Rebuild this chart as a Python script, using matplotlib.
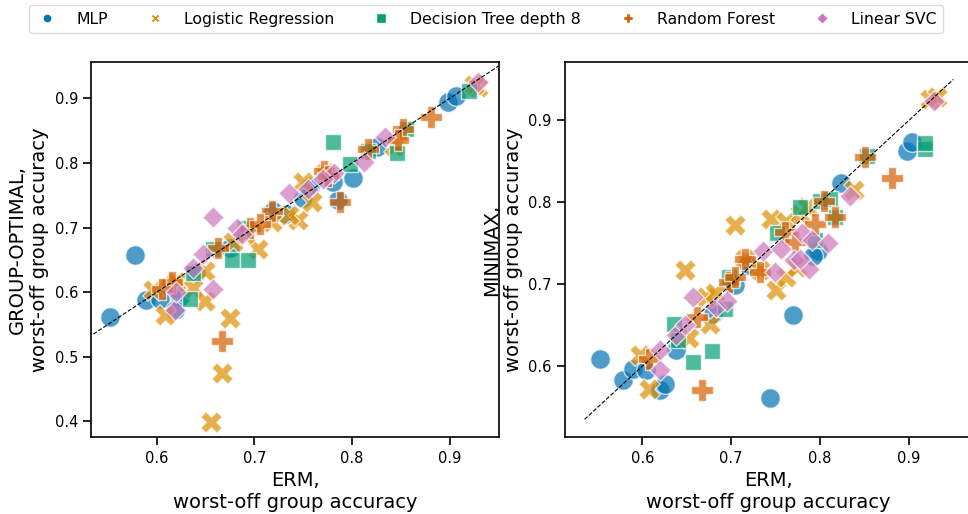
import numpy as np
import matplotlib.pyplot as plt
from matplotlib.lines import Line2D

models = ["MLP", "Logistic Regression", "Decision Tree depth 8", "Random Forest", "Linear SVC"]
colors = ["#0173b2", "#de8f05", "#029e73", "#d55e00", "#cc78bc"]
markers = ["o", "X", "s", "P", "D"]
msizes = [200, 240, 140, 230, 120]

# left panel: ERM vs GROUP-OPTIMAL (worst-off group accuracy)
go_erm = {
    "MLP": [0.552, 0.578, 0.589, 0.603, 0.624, 0.619, 0.675, 0.719, 0.732, 0.757, 0.786, 0.801, 0.825, 0.898, 0.906, 0.780, 0.750, 0.640],
    "Logistic Regression": [0.596, 0.608, 0.649, 0.637, 0.649, 0.675, 0.667, 0.655, 0.704, 0.678, 0.718, 0.745, 0.759, 0.750, 0.843, 0.929, 0.925, 0.735, 0.690, 0.772, 0.620],
    "Decision Tree depth 8": [0.634, 0.657, 0.677, 0.693, 0.780, 0.846, 0.920, 0.855, 0.637, 0.798, 0.816, 0.690],
    "Random Forest": [0.616, 0.667, 0.788, 0.881, 0.852, 0.771, 0.718, 0.695, 0.706, 0.663, 0.816, 0.847, 0.605, 0.775],
    "Linear SVC": [0.658, 0.658, 0.619, 0.637, 0.647, 0.682, 0.687, 0.735, 0.755, 0.781, 0.812, 0.834, 0.929, 0.620, 0.770],
}
go_val = {
    "MLP": [0.561, 0.658, 0.588, 0.590, 0.592, 0.573, 0.669, 0.726, 0.721, 0.762, 0.742, 0.776, 0.824, 0.894, 0.903, 0.770, 0.745, 0.630],
    "Logistic Regression": [0.604, 0.565, 0.632, 0.607, 0.587, 0.560, 0.475, 0.399, 0.667, 0.677, 0.708, 0.711, 0.739, 0.770, 0.827, 0.917, 0.920, 0.720, 0.690, 0.785, 0.615],
    "Decision Tree depth 8": [0.590, 0.667, 0.649, 0.649, 0.832, 0.815, 0.911, 0.853, 0.629, 0.799, 0.819, 0.700],
    "Random Forest": [0.615, 0.525, 0.739, 0.871, 0.853, 0.788, 0.726, 0.700, 0.706, 0.669, 0.822, 0.835, 0.605, 0.780],
    "Linear SVC": [0.717, 0.605, 0.573, 0.638, 0.659, 0.700, 0.690, 0.753, 0.760, 0.784, 0.801, 0.840, 0.925, 0.600, 0.775],
}

# right panel: ERM vs MINIMAX (worst-off group accuracy)
mm_erm = {
    "MLP": [0.552, 0.578, 0.589, 0.604, 0.620, 0.626, 0.638, 0.704, 0.719, 0.744, 0.769, 0.798, 0.792, 0.824, 0.898, 0.903, 0.680],
    "Logistic Regression": [0.597, 0.608, 0.648, 0.652, 0.676, 0.672, 0.682, 0.704, 0.715, 0.732, 0.745, 0.750, 0.762, 0.762, 0.777, 0.785, 0.838, 0.924, 0.932, 0.774],
    "Decision Tree depth 8": [0.636, 0.640, 0.657, 0.678, 0.693, 0.697, 0.751, 0.777, 0.800, 0.811, 0.918, 0.918, 0.853, 0.817, 0.794],
    "Random Forest": [0.608, 0.667, 0.661, 0.697, 0.704, 0.715, 0.760, 0.772, 0.794, 0.804, 0.817, 0.850, 0.881, 0.732],
    "Linear SVC": [0.620, 0.620, 0.638, 0.648, 0.657, 0.683, 0.695, 0.736, 0.749, 0.756, 0.771, 0.780, 0.787, 0.791, 0.809, 0.834, 0.928, 0.777],
}
mm_val = {
    "MLP": [0.609, 0.583, 0.597, 0.595, 0.571, 0.578, 0.620, 0.699, 0.723, 0.561, 0.663, 0.741, 0.735, 0.823, 0.863, 0.874, 0.664],
    "Logistic Regression": [0.613, 0.572, 0.717, 0.634, 0.652, 0.685, 0.689, 0.772, 0.731, 0.717, 0.780, 0.693, 0.709, 0.776, 0.786, 0.794, 0.815, 0.926, 0.928, 0.721],
    "Decision Tree depth 8": [0.652, 0.632, 0.605, 0.619, 0.670, 0.709, 0.762, 0.794, 0.802, 0.804, 0.865, 0.872, 0.857, 0.782, 0.754],
    "Random Forest": [0.609, 0.571, 0.660, 0.703, 0.709, 0.731, 0.764, 0.752, 0.774, 0.802, 0.782, 0.855, 0.830, 0.715],
    "Linear SVC": [0.595, 0.620, 0.638, 0.650, 0.685, 0.672, 0.680, 0.741, 0.715, 0.743, 0.729, 0.762, 0.719, 0.754, 0.750, 0.808, 0.924, 0.731],
}

fig = plt.figure(figsize=(9.68, 5.14), dpi=100)
ax1 = fig.add_axes([0.0945, 0.149, 0.4205, 0.730])
ax2 = fig.add_axes([0.5837, 0.149, 0.4205, 0.730])


def draw(ax, erm, val, ylabel):
    for m, c, mk, sz in zip(models, colors, markers, msizes):
        ax.scatter(erm[m], val[m], s=sz, c=c, marker=mk, alpha=0.7,
                   edgecolors="white", linewidths=1.0, zorder=2)
    ax.plot([0.535, 0.95], [0.535, 0.95], "k--", lw=0.8, zorder=3)
    ax.set_xlabel("ERM,\nworst-off group accuracy", fontsize=14)
    ax.set_ylabel(ylabel, fontsize=14)
    ax.tick_params(labelsize=10.5, length=6, width=1.2)
    for sp in ax.spines.values():
        sp.set_linewidth(1.2)
    ax.set_xticks([0.6, 0.7, 0.8, 0.9])


draw(ax1, go_erm, go_val, "GROUP-OPTIMAL,\nworst-off group accuracy")
ax1.set_xlim(0.533, 0.950)
ax1.set_ylim(0.375, 0.956)
ax1.set_yticks([0.4, 0.5, 0.6, 0.7, 0.8, 0.9])

draw(ax2, mm_erm, mm_val, "MINIMAX,\nworst-off group accuracy")
ax2.set_xlim(0.513, 0.971)
ax2.set_ylim(0.513, 0.971)
ax2.set_yticks([0.6, 0.7, 0.8, 0.9])

handles = [Line2D([], [], ls="", marker=mk, color=c, markersize=6.5, markeredgecolor="white")
           for c, mk in zip(colors, markers)]
fig.legend(handles, models, loc="upper left", bbox_to_anchor=(0.022, 1.005), ncol=5,
           fontsize=11.3, handlelength=1.5, handletextpad=1.1, columnspacing=2.25,
           frameon=True, edgecolor="lightgray")

fig.savefig("out.png", dpi=100)
